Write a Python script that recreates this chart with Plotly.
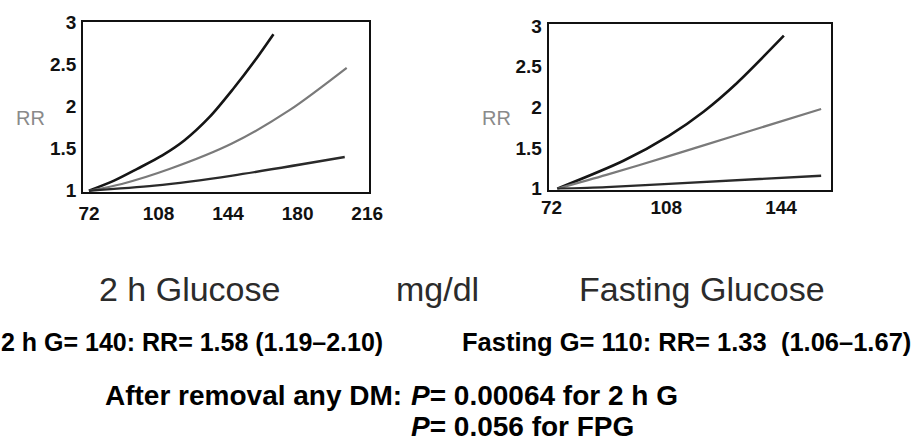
import plotly.graph_objects as go

# ---------------- data ----------------
# Left panel: 2 h glucose (mg/dl) vs RR
g2h_upper_x = [72, 85, 97, 110, 121.5, 134.6, 146.3, 158, 167.5]
g2h_upper_y = [1.0, 1.12, 1.26, 1.42, 1.60, 1.88, 2.20, 2.55, 2.86]
g2h_mid_x = [72, 89, 114, 146, 176, 205.4]
g2h_mid_y = [1.0, 1.08, 1.26, 1.56, 1.96, 2.46]
g2h_low_x = [72, 105.9, 146.3, 204.4]
g2h_low_y = [1.0, 1.06, 1.18, 1.40]

# Right panel: fasting glucose (mg/dl) vs RR
fpg_upper_x = [73.8, 94.4, 108.8, 119.8, 130.2, 144.9]
fpg_upper_y = [1.0, 1.34, 1.65, 1.95, 2.30, 2.88]
fpg_mid_x = [73.8, 89.2, 108.8, 130.2, 156.6]
fpg_mid_y = [1.0, 1.17, 1.40, 1.66, 1.98]
fpg_low_x = [73.8, 89.2, 108.8, 156.6]
fpg_low_y = [1.0, 1.02, 1.06, 1.16]

left_xticks = [72, 108, 144, 180, 216]
right_xticks = [72, 108, 144]
y_ticks = [1, 1.5, 2, 2.5, 3]
y_ticklabels = ["1", "1.5", "2", "2.5", "3"]

title_left = "2 h Glucose"
title_mid = "mg/dl"
title_right = "Fasting Glucose"
stat_left = "2 h G= 140: RR= 1.58 (1.19–2.10)"
stat_right = "Fasting G= 110: RR= 1.33  (1.06–1.67)"
removal_prefix = "After removal any DM:"
removal_line1 = "<i>P</i>= 0.00064 for 2 h G"
removal_line2 = "<i>P</i>= 0.056 for FPG"

# ---------------- figure ----------------
W, H = 914, 444
FONT = "Liberation Sans, Arial, sans-serif"

def px(x):
    return x / W

def py(y):
    return 1 - y / H

fig = go.Figure()

black = "#151515"
gray = "#7a7a7a"
dark = "#2a2a2a"

for xs, ys, c, w, ax in [
    (g2h_upper_x, g2h_upper_y, black, 2.6, 1),
    (g2h_mid_x, g2h_mid_y, gray, 2.2, 1),
    (g2h_low_x, g2h_low_y, dark, 2.4, 1),
    (fpg_upper_x, fpg_upper_y, black, 2.6, 2),
    (fpg_mid_x, fpg_mid_y, gray, 2.2, 2),
    (fpg_low_x, fpg_low_y, dark, 2.4, 2),
]:
    fig.add_trace(go.Scatter(
        x=xs, y=ys, mode="lines",
        line=dict(color=c, width=w, shape="spline", smoothing=0.8),
        xaxis="x" if ax == 1 else "x2",
        yaxis="y" if ax == 1 else "y2",
        showlegend=False, hoverinfo="skip",
    ))

tickfont = dict(family=FONT, size=19, color="#111111", weight="bold")
axis_common = dict(
    showline=True, linewidth=2, linecolor="#111111", mirror=True,
    showgrid=False, zeroline=False, ticks="", tickfont=tickfont,
)

fig.update_layout(
    width=W, height=H,
    margin=dict(l=0, r=0, t=0, b=0),
    paper_bgcolor="white", plot_bgcolor="white",
    xaxis=dict(domain=[px(77), px(370)], range=[69, 217],
               tickvals=left_xticks, ticklabelstandoff=3, anchor="y", **axis_common),
    yaxis=dict(domain=[py(191), py(13)], range=[0.98, 3.0],
               tickvals=y_ticks, ticktext=y_ticklabels, ticklabelstandoff=1, anchor="x", **axis_common),
    xaxis2=dict(domain=[px(554), px(843)], range=[71.1, 159.6],
                tickvals=right_xticks, ticklabelstandoff=0, anchor="y2", **axis_common),
    yaxis2=dict(domain=[py(188), py(15)], range=[0.99, 3.02],
                tickvals=y_ticks, ticktext=y_ticklabels, ticklabelstandoff=1, anchor="x2", **axis_common),
)

def ann(text, x, y, size, color="#000000", xanchor="center", bold=False):
    fig.add_annotation(
        text=text, x=px(x), y=py(y), xref="paper", yref="paper",
        xanchor=xanchor, yanchor="middle", showarrow=False,
        font=dict(family=FONT, size=size, color=color, weight="bold" if bold else "normal"),
    )

# RR axis labels
ann("RR", 23, 113, 20, color="#8a8a8a")
ann("RR", 501, 113, 20, color="#8a8a8a")

# Row 1 titles
ann(title_left, 186, 292, 34, color="#2b2b2b")
ann(title_mid, 440, 292, 34, color="#2b2b2b")
ann(title_right, 711, 292, 34, color="#2b2b2b")

# Row 2 statistics
ann(stat_left, 386, 348, 25, xanchor="right", bold=True)
ann(stat_right, 463, 348, 25.5, xanchor="left", bold=True)

# Rows 3-4
ann(removal_prefix, 406, 404, 28, xanchor="right", bold=True)
ann(removal_line1, 411, 404, 28, xanchor="left", bold=True)
ann(removal_line2, 411, 436, 28, xanchor="left", bold=True)

fig.write_html("out.html")
